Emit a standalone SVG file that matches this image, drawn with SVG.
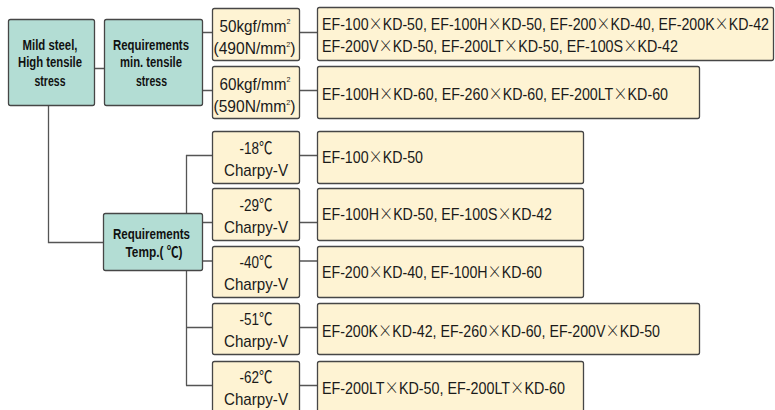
<svg xmlns="http://www.w3.org/2000/svg" width="775" height="410" viewBox="0 0 775 410">
<style>
.t{fill:#b3ddd4;stroke:#464646;stroke-width:1.3}
.y{fill:#fef3d3;stroke:#464646;stroke-width:1.3}
.c{fill:none;stroke:#555;stroke-width:1.3}
.b{font-family:"Liberation Sans","Noto Sans CJK KR",sans-serif;font-weight:bold;font-size:15px;fill:#111;text-anchor:middle}
.n{font-family:"Liberation Sans","Noto Sans CJK KR",sans-serif;font-size:17px;fill:#1a1a1a}
.m{text-anchor:middle}
.s{font-size:8px}
.x{font-family:"Noto Sans CJK KR",sans-serif;font-weight:300}
</style>
<g id="connectors">
<path class="c" d="M94 68.5H104M202 32.5H212M202 90.5H212M299 32.5H317M299 90.5H317"/>
<path class="c" d="M48.5 106V242.5H103"/>
<path class="c" d="M186.5 155V385.5M186 155.5H212M186 327.5H212M186 385.5H212M202 222.5H212M202 261H212"/>
<path class="c" d="M299 155.5H317M299 222.5H317M299 261H317M299 327.5H317M299 385.5H317"/>
</g>
<g id="mild">
<rect class="t" x="8.5" y="19.5" width="86" height="86" rx="2"/>
<text class="b" x="50" y="49.5" textLength="55" lengthAdjust="spacingAndGlyphs">Mild steel,</text>
<text class="b" x="50" y="67" textLength="64" lengthAdjust="spacingAndGlyphs">High tensile</text>
<text class="b" x="50" y="86" textLength="31" lengthAdjust="spacingAndGlyphs">stress</text>
</g>
<g id="req-tensile">
<rect class="t" x="104.5" y="19.5" width="98" height="86" rx="2"/>
<text class="b" x="151" y="49.5" textLength="76" lengthAdjust="spacingAndGlyphs">Requirements</text>
<text class="b" x="151" y="67" textLength="62" lengthAdjust="spacingAndGlyphs">min. tensile</text>
<text class="b" x="151.5" y="86" textLength="31" lengthAdjust="spacingAndGlyphs">stress</text>
</g>
<g id="req-temp">
<rect class="t" x="103.5" y="213.5" width="99" height="57" rx="2"/>
<text class="b" x="151.5" y="238.5" textLength="77" lengthAdjust="spacingAndGlyphs">Requirements</text>
<text class="b" x="154" y="257" textLength="57" lengthAdjust="spacingAndGlyphs">Temp.( ℃)</text>
</g>
<g id="k50">
<rect class="y" x="212.5" y="8.5" width="87" height="52" rx="2"/>
<text class="n" x="219.5" y="31.5" textLength="71" lengthAdjust="spacingAndGlyphs">50kgf/mm<tspan class="s" dy="-8">2</tspan></text>
<text class="n" x="213.5" y="53.5" textLength="82" lengthAdjust="spacingAndGlyphs">(490N/mm<tspan class="s" dy="-7">2</tspan><tspan dy="7">)</tspan></text>
</g>
<g id="k60">
<rect class="y" x="212.5" y="66.5" width="87" height="52" rx="2"/>
<text class="n" x="219.5" y="89.5" textLength="71" lengthAdjust="spacingAndGlyphs">60kgf/mm<tspan class="s" dy="-8">2</tspan></text>
<text class="n" x="213.5" y="111.5" textLength="82" lengthAdjust="spacingAndGlyphs">(590N/mm<tspan class="s" dy="-7">2</tspan><tspan dy="7">)</tspan></text>
</g>
<g id="ef1">
<rect class="y" x="317.5" y="7.5" width="456" height="53" rx="2"/>
<text class="n" x="322" y="29.5" textLength="447" lengthAdjust="spacingAndGlyphs">EF-100<tspan class="x">×</tspan>KD-50, EF-100H<tspan class="x">×</tspan>KD-50, EF-200<tspan class="x">×</tspan>KD-40, EF-200K<tspan class="x">×</tspan>KD-42</text>
<text class="n" x="322" y="51.5" textLength="356" lengthAdjust="spacingAndGlyphs">EF-200V<tspan class="x">×</tspan>KD-50, EF-200LT<tspan class="x">×</tspan>KD-50, EF-100S<tspan class="x">×</tspan>KD-42</text>
</g>
<g id="ef2">
<rect class="y" x="317.5" y="66.5" width="382" height="52" rx="2"/>
<text class="n" x="322" y="99.5" textLength="346" lengthAdjust="spacingAndGlyphs">EF-100H<tspan class="x">×</tspan>KD-60, EF-260<tspan class="x">×</tspan>KD-60, EF-200LT<tspan class="x">×</tspan>KD-60</text>
</g>
<g id="c18">
<rect class="y" x="212.5" y="131.5" width="87" height="52" rx="2"/>
<text class="n m" x="256" y="153.5" textLength="33" lengthAdjust="spacingAndGlyphs">-18℃</text>
<text class="n m" x="256" y="175.5" textLength="64" lengthAdjust="spacingAndGlyphs">Charpy-V</text>
</g>
<g id="ef18">
<rect class="y" x="317.5" y="131.5" width="266" height="52" rx="2"/>
<text class="n" x="322" y="162.5" textLength="101" lengthAdjust="spacingAndGlyphs">EF-100<tspan class="x">×</tspan>KD-50</text>
</g>
<g id="c29">
<rect class="y" x="212.5" y="188.5" width="87" height="52" rx="2"/>
<text class="n m" x="256" y="210.5" textLength="33" lengthAdjust="spacingAndGlyphs">-29℃</text>
<text class="n m" x="256" y="232.5" textLength="64" lengthAdjust="spacingAndGlyphs">Charpy-V</text>
</g>
<g id="ef29">
<rect class="y" x="317.5" y="188.5" width="266" height="52" rx="2"/>
<text class="n" x="322" y="220" textLength="230" lengthAdjust="spacingAndGlyphs">EF-100H<tspan class="x">×</tspan>KD-50, EF-100S<tspan class="x">×</tspan>KD-42</text>
</g>
<g id="c40">
<rect class="y" x="212.5" y="246.5" width="87" height="51" rx="2"/>
<text class="n m" x="256" y="268" textLength="33" lengthAdjust="spacingAndGlyphs">-40℃</text>
<text class="n m" x="256" y="290" textLength="64" lengthAdjust="spacingAndGlyphs">Charpy-V</text>
</g>
<g id="ef40">
<rect class="y" x="317.5" y="246.5" width="266" height="51" rx="2"/>
<text class="n" x="322" y="277.5" textLength="220" lengthAdjust="spacingAndGlyphs">EF-200<tspan class="x">×</tspan>KD-40, EF-100H<tspan class="x">×</tspan>KD-60</text>
</g>
<g id="c51">
<rect class="y" x="212.5" y="303.5" width="87" height="51" rx="2"/>
<text class="n m" x="256" y="325" textLength="33" lengthAdjust="spacingAndGlyphs">-51℃</text>
<text class="n m" x="256" y="347" textLength="64" lengthAdjust="spacingAndGlyphs">Charpy-V</text>
</g>
<g id="ef51">
<rect class="y" x="317.5" y="303.5" width="382" height="51" rx="2"/>
<text class="n" x="322" y="336.5" textLength="338" lengthAdjust="spacingAndGlyphs">EF-200K<tspan class="x">×</tspan>KD-42, EF-260<tspan class="x">×</tspan>KD-60, EF-200V<tspan class="x">×</tspan>KD-50</text>
</g>
<g id="c62">
<rect class="y" x="212.5" y="361.5" width="87" height="52" rx="2"/>
<text class="n m" x="256" y="383" textLength="33" lengthAdjust="spacingAndGlyphs">-62℃</text>
<text class="n m" x="256" y="405" textLength="64" lengthAdjust="spacingAndGlyphs">Charpy-V</text>
</g>
<g id="ef62">
<rect class="y" x="317.5" y="361.5" width="266" height="52" rx="2"/>
<text class="n" x="322" y="393.5" textLength="243" lengthAdjust="spacingAndGlyphs">EF-200LT<tspan class="x">×</tspan>KD-50, EF-200LT<tspan class="x">×</tspan>KD-60</text>
</g>
</svg>
